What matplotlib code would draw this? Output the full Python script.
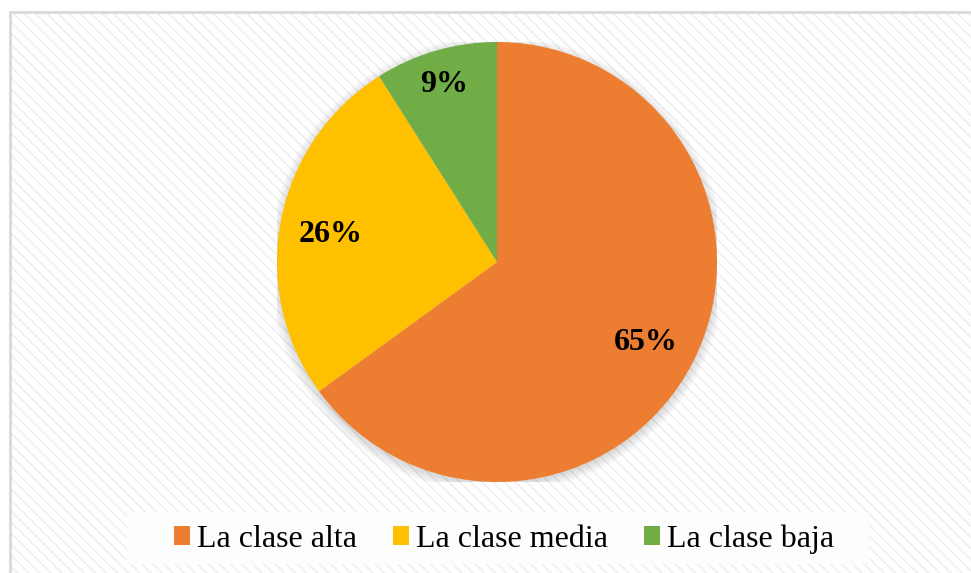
import matplotlib.pyplot as plt
import matplotlib as mpl
from matplotlib.patches import Rectangle, Circle
import numpy as np

# Datos del gráfico
categorias = ['La clase alta', 'La clase media', 'La clase baja']
porcentajes = [65, 26, 9]
colores = ['#ED7D31', '#FFC000', '#70AD47']
etiquetas = ['65%', '26%', '9%']

mpl.rc('font', family='Liberation Serif')
mpl.rcParams['hatch.linewidth'] = 1.2

W, H = 971, 573
fig = plt.figure(figsize=(W / 100, H / 100), dpi=100)

# Fondo rayado del área del gráfico
fondo = Rectangle((10 / W, 0), 1.0, (H - 12) / H, transform=fig.transFigure,
                  facecolor='white', edgecolor='#EFEFEF', hatch='\\\\\\',
                  linewidth=0, zorder=-2)
fig.patches.append(fondo)
borde = Rectangle((10 / W, -0.01), 1.0, (H - 12) / H + 0.01, transform=fig.transFigure,
                  facecolor='none', edgecolor='#D9D9D9', linewidth=2, zorder=-1)
fig.patches.append(borde)

# Caja blanca de la leyenda
caja = Rectangle((127 / W, (H - 564) / H), 742 / W, 52 / H, transform=fig.transFigure,
                 facecolor='#FDFDFD', edgecolor='none', zorder=-1)
fig.patches.append(caja)

# Ejes del pastel
r = 220
cx, cy = 497, 262
ax = fig.add_axes([(cx - r) / W, (H - cy - r) / H, 2 * r / W, 2 * r / H])
ax.set_zorder(2)
ax.patch.set_visible(False)

# Sombra suave
for k in range(6):
    ax.add_patch(Circle((0.0, -0.012), 1.0 + 0.008 * k, facecolor='black',
                        alpha=0.025, edgecolor='none', zorder=0))

wedges, _ = ax.pie(porcentajes, colors=colores, startangle=90, counterclock=False,
                   radius=1.0, wedgeprops=dict(linewidth=0, zorder=2))
ax.set_xlim(-1, 1)
ax.set_ylim(-1, 1)
ax.set_aspect('equal')
ax.axis('off')

distancias = [0.76, 0.77, 0.86]
for w, txt, d in zip(wedges, etiquetas, distancias):
    ang = np.deg2rad((w.theta1 + w.theta2) / 2)
    ax.text(d * np.cos(ang), d * np.sin(ang) - 0.02, txt, ha='center', va='center',
            fontsize=23, fontweight='bold', color='black', zorder=3)

leg = fig.legend(wedges, categorias, loc='center', bbox_to_anchor=(504 / W, (H - 539) / H),
                 ncol=3, frameon=False, fontsize=23, handlelength=0.5, handleheight=0.5,
                 handletextpad=0.22, columnspacing=1.12)
leg.set_zorder(3)

plt.savefig('out.png', dpi=100)
